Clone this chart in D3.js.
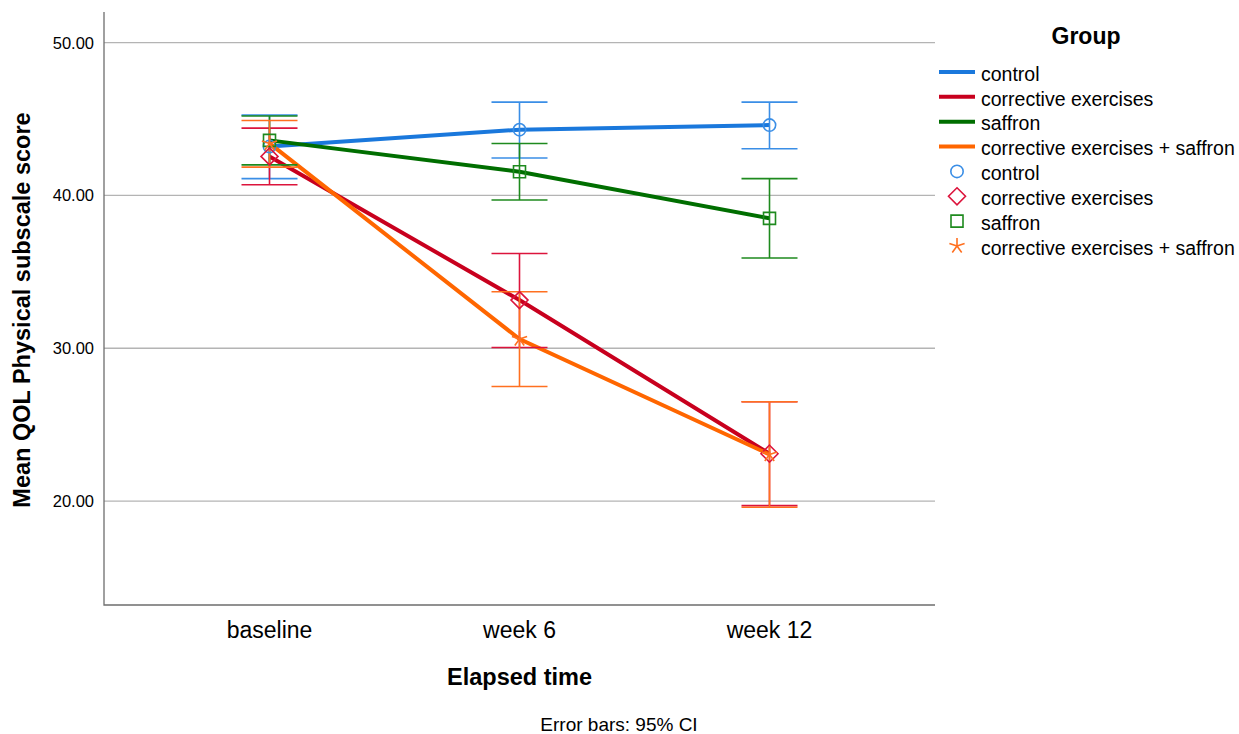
<!DOCTYPE html>
<html>
<head>
<meta charset="utf-8">
<script src="https://cdn.jsdelivr.net/npm/d3@7"></script>
<style>
	body { margin: 0; background: #fff; }
	svg text { font-family: Arial, "Liberation Sans", sans-serif; fill: #000; }
</style>
</head>
<body>
<svg class="chart"></svg>
<script>
// chart data
var timepoints = ["baseline", "week 6", "week 12"];
var groups = ["control", "corrective exercises", "saffron", "corrective exercises + saffron"];

var controlMean = [43.2, 44.3, 44.6];
var controlLow = [41.1, 42.45, 43.05];
var controlHigh = [45.25, 46.1, 46.1];

var correctiveMean = [42.55, 33.15, 23.1];
var correctiveLow = [40.7, 30.05, 19.7];
var correctiveHigh = [44.4, 36.2, 26.5];

var saffronMean = [43.6, 41.55, 38.5];
var saffronLow = [42.0, 39.7, 35.9];
var saffronHigh = [45.2, 43.4, 41.1];

var comboMean = [43.4, 30.6, 23.05];
var comboLow = [41.85, 27.5, 19.6];
var comboHigh = [44.9, 33.7, 26.5];

var yTicks = [20, 30, 40, 50];

// colours: line, error bar / marker
var lineColors = ["#1a78dc", "#c8001e", "#006e00", "#ff6600"];
var barColors = ["#3a8ee6", "#dc143c", "#1e8a1e", "#ff7020"];
var symbols = ["circle", "diamond", "square", "star"];

var series = groups.map(function(g, i) {
	var m = [controlMean, correctiveMean, saffronMean, comboMean][i];
	var lo = [controlLow, correctiveLow, saffronLow, comboLow][i];
	var hi = [controlHigh, correctiveHigh, saffronHigh, comboHigh][i];
	return {
		name: g,
		line: lineColors[i],
		bar: barColors[i],
		symbol: symbols[i],
		values: timepoints.map(function(t, j) { return {t: t, mean: m[j], lo: lo[j], hi: hi[j]}; })
	};
});

var width = 1239, height = 734;
var svg = d3.select("svg.chart").attr("width", width).attr("height", height);

var plotLeft = 104, plotRight = 935, plotTop = 12, plotBottom = 605;

var x = d3.scalePoint().domain(timepoints).range([plotLeft, plotRight]).padding(0.662);
var y = d3.scaleLinear().domain([13.2, 52]).range([plotBottom, plotTop]);

// gridlines
svg.append("g").selectAll("line")
	.data(yTicks).enter().append("line")
	.attr("x1", plotLeft).attr("x2", plotRight)
	.attr("y1", function(d) { return y(d); }).attr("y2", function(d) { return y(d); })
	.attr("stroke", "#b4b4b4").attr("stroke-width", 1.3);

// axes frame
svg.append("path")
	.attr("d", "M" + plotLeft + "," + plotTop + "V" + plotBottom + "H" + plotRight)
	.attr("fill", "none").attr("stroke", "#6e6e6e").attr("stroke-width", 1.3);

// y tick labels
svg.append("g").selectAll("text")
	.data(yTicks).enter().append("text")
	.attr("x", 94).attr("y", function(d) { return y(d); })
	.attr("dy", "0.36em").attr("text-anchor", "end")
	.style("font-size", "16.5px")
	.text(function(d) { return d3.format(".2f")(d); });

// x tick labels
svg.append("g").selectAll("text")
	.data(timepoints).enter().append("text")
	.attr("x", function(d) { return x(d); }).attr("y", 638)
	.attr("text-anchor", "middle")
	.style("font-size", "23px")
	.text(function(d) { return d; });

// axis titles
svg.append("text")
	.attr("transform", "translate(30," + 310 + ") rotate(-90)")
	.attr("text-anchor", "middle")
	.style("font-size", "23.5px").style("font-weight", "bold")
	.text("Mean QOL Physical subscale score");

svg.append("text")
	.attr("x", x("week 6")).attr("y", 685)
	.attr("text-anchor", "middle")
	.style("font-size", "23.5px").style("font-weight", "bold")
	.text("Elapsed time");

svg.append("text")
	.attr("x", 619).attr("y", 731)
	.attr("text-anchor", "middle")
	.style("font-size", "19px")
	.text("Error bars: 95% CI");

// lines
var line = d3.line()
	.x(function(d) { return x(d.t); })
	.y(function(d) { return y(d.mean); });

svg.append("g").selectAll("path")
	.data(series).enter().append("path")
	.attr("d", function(s) { return line(s.values); })
	.attr("fill", "none")
	.attr("stroke", function(s) { return s.line; })
	.attr("stroke-width", 4);

// error bars
var capHalf = 28;
series.forEach(function(s) {
	var g = svg.append("g").attr("stroke", s.bar).attr("stroke-width", 1.6);
	g.selectAll("line.v").data(s.values).enter().append("line")
		.attr("x1", function(d) { return x(d.t); }).attr("x2", function(d) { return x(d.t); })
		.attr("y1", function(d) { return y(d.lo); }).attr("y2", function(d) { return y(d.hi); });
	g.selectAll("line.hi").data(s.values).enter().append("line")
		.attr("x1", function(d) { return x(d.t) - capHalf; }).attr("x2", function(d) { return x(d.t) + capHalf; })
		.attr("y1", function(d) { return y(d.hi); }).attr("y2", function(d) { return y(d.hi); });
	g.selectAll("line.lo").data(s.values).enter().append("line")
		.attr("x1", function(d) { return x(d.t) - capHalf; }).attr("x2", function(d) { return x(d.t) + capHalf; })
		.attr("y1", function(d) { return y(d.lo); }).attr("y2", function(d) { return y(d.lo); });
});

// marker shapes
function markerPath(type) {
	if (type == "circle") return d3.symbol(d3.symbolCircle, 120)();
	if (type == "diamond") return "M0,-8.5L8.5,0L0,8.5L-8.5,0Z";
	if (type == "square") return "M-6,-6H6V6H-6Z";
	// five-armed star
	var p = "";
	for (var k = 0; k < 5; k++) {
		var a = -Math.PI / 2 + k * 2 * Math.PI / 5;
		p += "M0,0L" + (8 * Math.cos(a)).toFixed(2) + "," + (8 * Math.sin(a)).toFixed(2);
	}
	return p;
}

series.forEach(function(s) {
	svg.append("g").selectAll("path")
		.data(s.values).enter().append("path")
		.attr("transform", function(d) { return "translate(" + x(d.t) + "," + y(d.mean) + ")"; })
		.attr("d", markerPath(s.symbol))
		.attr("fill", "none")
		.attr("stroke", s.bar)
		.attr("stroke-width", 1.6);
});

// legend
var legend = svg.append("g");
legend.append("text")
	.attr("x", 1086).attr("y", 44)
	.attr("text-anchor", "middle")
	.style("font-size", "23px").style("font-weight", "bold")
	.text("Group");

var rowY = d3.scaleLinear().domain([0, 7]).range([72, 246]);

series.forEach(function(s, i) {
	legend.append("line")
		.attr("x1", 939).attr("x2", 975)
		.attr("y1", rowY(i)).attr("y2", rowY(i))
		.attr("stroke", s.line).attr("stroke-width", 4);
	legend.append("text")
		.attr("x", 981).attr("y", rowY(i)).attr("dy", "0.45em")
		.style("font-size", "19.5px")
		.text(s.name);
});

series.forEach(function(s, i) {
	legend.append("path")
		.attr("transform", "translate(957," + rowY(i + 4) + ")")
		.attr("d", markerPath(s.symbol))
		.attr("fill", "none").attr("stroke", s.bar).attr("stroke-width", 1.6);
	legend.append("text")
		.attr("x", 981).attr("y", rowY(i + 4)).attr("dy", "0.45em")
		.style("font-size", "19.5px")
		.text(s.name);
});
</script>
</body>
</html>
